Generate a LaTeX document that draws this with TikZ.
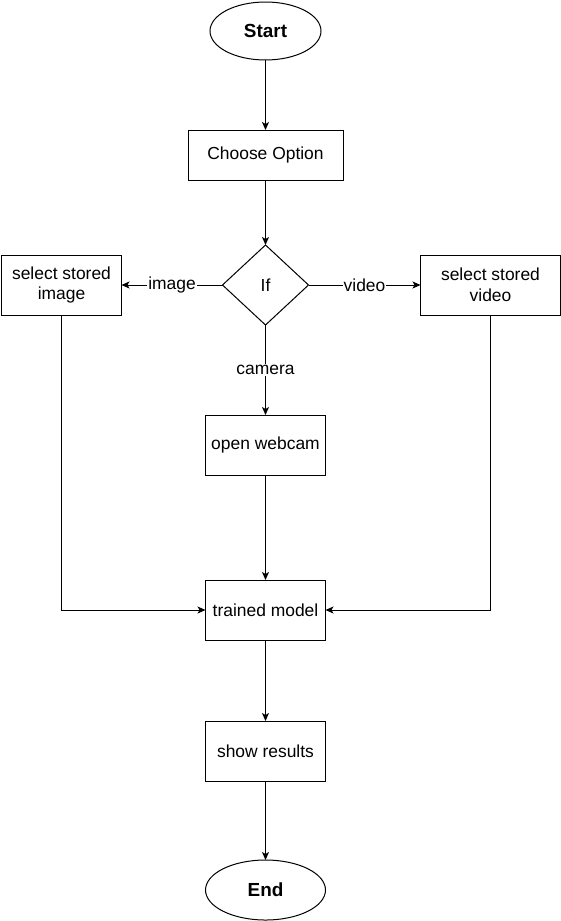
\documentclass[tikz,border=0pt]{standalone}
\usepackage{fontspec}
\setmainfont{Liberation Sans}
\usetikzlibrary{arrows.meta}
\usetikzlibrary{shapes.geometric, positioning}

\tikzset{
    every node/.style={font=\fontsize{17.5}{21}\selectfont},
    flowbox/.style={draw, line width=1bp, outer sep=0pt, minimum width=120bp, minimum height=60bp, align=center, inner sep=2bp},
    terminal/.style={draw, ellipse, line width=1bp, outer sep=0pt, minimum width=111bp, minimum height=58bp, font=\fontsize{19}{22}\selectfont\bfseries},
    decision/.style={draw, diamond, line width=1bp, outer sep=0pt, minimum width=86bp, minimum height=80bp, inner sep=0pt},
    edgelbl/.style={fill=white, inner sep=1bp},
    flow/.style={line width=1bp, -{Stealth[length=8bp, width=7bp, inset=2bp]}}
}

\begin{document}
\begin{tikzpicture}[x=1bp, y=1bp]
    \useasboundingbox (0,0) rectangle (561,-921);

    % Main column
    \node[terminal] (start) at (265.5,-31) {Start};
    \node[flowbox, minimum width=155bp, minimum height=50bp] (choose) [below=70bp of start] {Choose Option};
    \node[decision] (if) [below=65bp of choose] {If};
    \node[flowbox] (webcam) [below=90bp of if] {open webcam};
    \node[flowbox] (model) [below=105bp of webcam] {trained model};
    \node[flowbox] (results) [below=81bp of model] {show results};
    \node[terminal, minimum width=120bp, minimum height=60bp] (end) [below=79bp of results] {End};

    % Side branches
    \node[flowbox] (image) [left=101bp of if] {select stored\\image};
    \node[flowbox, minimum width=140bp] (video) [right=112bp of if] {select stored\\video};

    % Arrows
    \draw[flow] (start) -- (choose);
    \draw[flow] (choose) -- (if);
    \draw[flow] (if) -- node[edgelbl] {image} (image);
    \draw[flow] (if) -- node[edgelbl] {video} (video);
    \draw[flow] (if) -- node[edgelbl] {camera} (webcam);
    \draw[flow] (webcam) -- (model);
    \draw[flow] (image) |- (model);
    \draw[flow] (video) |- (model);
    \draw[flow] (model) -- (results);
    \draw[flow] (results) -- (end);
\end{tikzpicture}
\end{document}
